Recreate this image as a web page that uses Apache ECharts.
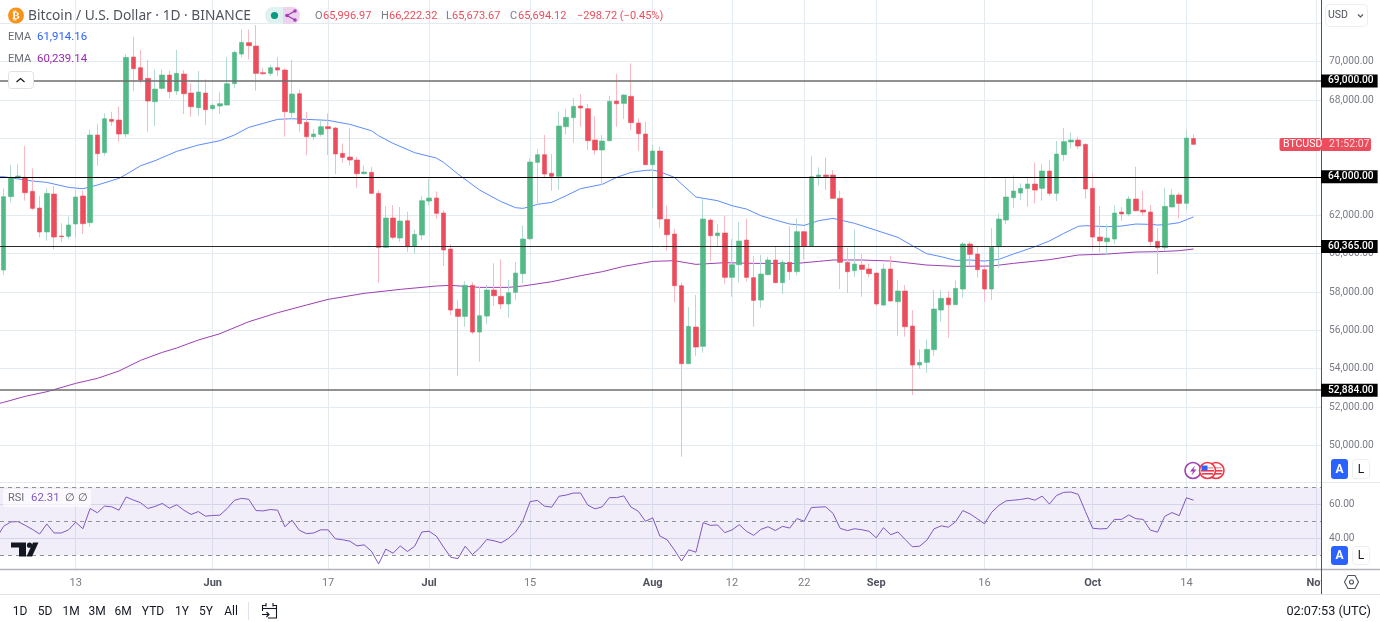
<!DOCTYPE html>
<html>
<head>
<meta charset="utf-8">
<title>BTCUSD</title>
<script src="https://cdn.jsdelivr.net/npm/echarts@6/dist/echarts.min.js"></script>
<style>
html, body { margin: 0; padding: 0; background: #fff; }
#main { width: 1380px; height: 622px; }
</style>
</head>
<body>
<div id="main"></div>
<script>
// daily candles, index 0 is 3 May
var opens = [59143,62965,63938,63972,63243,62374,61124,63104,60916,60898,61541,63000,61610,66179,65258,66995,66960,66231,70243,69687,
  69131,67915,68610,69305,68471,69357,68367,67603,68367,67551,67690,67742,68853,70399,70990,70816,69427,69392,69687,69565,
  67342,68332,66839,66092,66213,66613,66543,65223,65032,64876,64164,64233,63139,60324,61853,60811,61714,60395,60968,62739,
  62895,62114,60238,57111,56729,58344,55912,56746,58101,57771,57372,57980,58952,60776,64754,65153,64181,64025,66613,67082,
  67690,67551,65918,65397,65883,67950,67829,68193,66804,66231,64632,65345,61784,61020,58327,54262,56173,55166,61749,60933,
  61072,58762,59421,60707,58744,57580,58900,59665,58484,59543,59057,61141,60395,64007,64094,64094,62878,59543,59109,59404,
  59196,58987,57319,59196,57494,58049,56225,54193,54332,54992,57059,57685,57337,58153,60499,59977,59161,58153,60359,61749,
  62913,63156,63399,63625,63399,64303,63139,65153,65814,65918,65692,63399,60863,60620,60759,62166,62062,62843,62270,62166,
  60637,60307,62427,63052,62618,65997];
var closes = [62965,63972,64042,63173,62357,61124,63139,60863,60881,61489,62948,61558,66179,65206,67029,66891,66231,70226,69635,69045,
  67950,68575,69305,68437,69392,68332,67655,68419,67499,67725,67811,68853,70486,71007,70834,69392,69375,69687,69565,67394,
  68315,66769,66092,66231,66613,66508,65189,65015,64876,64164,64250,63139,60324,61853,60846,61697,60359,61003,62757,62895,
  62097,60186,57059,56729,58344,55912,56763,58101,57806,57372,57962,58987,60759,64771,65153,64146,64025,66648,67099,67672,
  67585,65883,65397,65866,67933,67811,68263,66821,66248,64632,65345,61801,60985,58327,54262,56208,55131,61801,60933,61072,
  58762,59421,60655,58762,57563,58935,59665,58484,59543,59057,61141,60395,64007,64094,64007,62878,59543,59057,59456,59178,
  58952,57372,59196,57528,58049,56190,54193,54332,55010,57111,57667,57337,58188,60499,59960,59161,58153,60324,61801,62948,
  63260,63399,63625,63312,64303,63139,65189,65831,65918,65605,63365,60863,60655,60811,62114,62062,62843,62235,62166,60620,
  60307,62461,63052,62618,66022,65694];
var lows = [58883,62670,63868,62757,62270,60846,60672,60220,60603,60742,60829,61020,61402,64580,65101,66648,65831,66057,68471,68871,
  66352,66648,68558,68089,68263,67273,67134,67186,66700,67447,67273,67690,68610,70226,70121,68489,69305,69253,69253,66092,
  66995,66352,65136,65918,66092,65136,64146,64737,64580,63434,64129,63104,58484,60290,60742,60603,60082,59994,60707,62514,
  61819,59352,56798,53620,56190,55808,54367,56330,57267,57111,56659,57580,58466,60707,62531,63938,63277,63312,66213,65779,
  66613,65397,65153,63573,65848,66613,67012,66439,65345,64615,62357,61349,60151,57459,49416,54245,54662,54836,59612,60359,
  58431,57754,58501,58535,56190,57181,58883,58450,57893,58622,58865,59699,60380,63538,63312,62861,58153,57945,58779,57754,
  58762,57267,57267,57494,55704,55669,52630,53998,53793,54662,56451,55617,57319,57702,59404,58744,57494,57580,59230,61541,
  62392,62791,62444,62618,62757,63000,62739,64824,65466,65449,62861,60220,60064,59960,60499,61714,61957,62201,61957,60359,
  58935,60151,62409,61836,62270,65674];
var highs = [63399,64615,64667,65605,64441,63000,63399,63521,61575,61923,63312,63277,66474,66752,67307,67394,67655,70399,71303,70608,
  70087,69600,69600,69531,70608,69565,68871,69513,69079,67829,68419,70226,70573,71685,71685,71911,69670,69826,70226,69652,
  70087,68558,67394,66491,66960,67307,66613,65744,66526,65049,64598,64511,63295,62479,62531,62427,62183,61228,63017,63885,
  63243,62270,60499,57580,58570,58501,58275,58362,59491,59699,58622,59560,61471,64962,65449,66179,65189,67411,67551,68107,
  68315,67794,67169,66179,68228,69357,68315,69913,67047,66873,65657,65570,62496,61280,58501,57215,57841,62843,61836,61541,
  61975,60759,61645,61836,59873,59925,59838,60359,59665,61419,61836,61160,65084,64493,65003,64355,63277,60307,61263,59977,
  59491,59000,59491,59873,58622,58362,57059,55010,55530,58101,58101,58049,58605,60620,60620,60359,59317,61332,62097,63920,
  64076,63660,64007,64754,64667,64876,65866,66543,66300,66092,65744,64181,62479,61523,62514,62427,63000,64528,63277,62531,
  61349,63434,63365,63173,66439,66222];

// EMA lines, read at these days
var blueDays = [-1,0,4,6,9,11,13,16,17,19,21,24,27,30,32,34,36,38,40,42,45,48,51,52,54,57,60,61,63,66,69,71,72,73,74,76,78,80,83,85,87,89,90,91,93,96,99,101,103,105,107,109,111,113,115,118,121,124,126,128,130,132,134,136,138,140,143,145,147,149,150,153,155,157,159,160,161,163,164,165];
var blueValues = [64000,64007,63781,63712,63451,63382,63573,63920,64129,64580,64841,65327,65657,65883,66179,66578,66786,66995,67029,66995,66943,66734,66404,66143,65744,65258,64980,64754,64146,63312,62704,62392,62357,62444,62565,62669,63017,63382,63608,63972,64233,64337,64354,64267,63972,62947,62757,62496,62322,61975,61749,61541,61471,61714,61836,61575,61210,60846,60412,59995,59838,59647,59664,59612,59699,59977,60359,60655,61054,61419,61454,61402,61436,61541,61524,61489,61506,61610,61766,61914];
var purpleDays = [-1,0,3,6,10,13,16,19,22,24,27,30,34,38,42,45,50,55,60,62,66,70,72,76,80,83,86,90,93,96,100,104,110,113,115,119,123,128,132,137,140,145,149,153,157,160,163,165];
var purpleValues = [52160,52248,52560,52803,53238,53498,53880,54436,54853,55079,55496,55826,56451,56920,57320,57615,57928,58136,58310,58344,58240,58240,58310,58535,58848,59057,59335,59595,59630,59439,59526,59491,59491,59595,59665,59665,59612,59404,59335,59352,59491,59682,59925,59977,60081,60099,60151,60239];

// horizontal levels
var levels = [69000, 64000, 60365, 52884];
var levelColors = ['#6e6e6e', '#000', '#2a2a2a', '#6e6e6e'];
var levelWidths = [1.6, 1, 1, 1.6];

// RSI, first value belongs to day -1
var rsiValues = [40.0,47.0,49.6,49.8,47.6,45.2,42.5,48.4,43.1,43.1,44.9,49.4,45.6,57.5,55.0,58.9,58.5,56.5,64.3,62.5,60.9,
  57.5,58.7,60.5,57.7,59.7,56.5,54.0,55.7,53.0,53.4,53.6,57.5,62.3,63.5,62.9,56.3,56.1,56.9,56.5,46.8,
  50.6,44.7,42.7,43.1,45.0,44.9,39.7,39.1,38.3,35.5,36.1,32.4,24.9,33.6,31.2,35.5,32.2,35.3,43.7,44.1,
  41.3,34.8,28.8,28.0,35.3,30.4,34.2,39.3,38.5,37.3,39.9,43.7,50.2,61.5,62.3,58.9,58.3,64.7,65.4,66.6,
  66.6,59.5,57.3,58.5,63.9,63.9,64.9,58.3,55.9,50.0,52.0,41.3,39.1,33.2,26.6,33.2,31.8,49.2,47.6,47.8,
  43.3,44.9,48.0,44.1,41.7,45.2,46.8,44.5,47.0,46.0,51.6,50.0,58.1,58.3,58.5,54.6,45.8,44.5,45.6,45.0,
  44.1,40.3,46.2,42.1,43.7,39.3,35.0,35.3,38.8,45.5,47.3,46.5,49.7,56.3,54.3,51.5,48.5,55.3,59.3,62.0,
  62.4,62.8,63.6,62.4,64.8,60.1,65.2,67.0,67.2,65.8,55.7,45.9,45.5,45.7,51.1,51.1,53.7,51.5,51.1,44.8,
  43.6,52.9,55.1,53.3,63.8,62.4];
var rsiLevels = [70, 50, 30];

// axis ticks
var tickDays = [10, 29, 45, 59, 73, 90, 101, 111, 121, 136, 151, 164, 182];
var tickLabels = ['13', 'Jun', '17', 'Jul', '15', 'Aug', '12', '22', 'Sep', '16', 'Oct', '14', 'Nov'];
var priceGrid = [50000,52000,54000,56000,58000,60000,62000,64000,66000,68000,70000,72000];
var priceLabels = [50000,52000,54000,56000,58000,60000,62000,64000,68000,70000];
var rsiTicks = [40, 60];
var rangeButtons = ['1D','5D','1M','3M','6M','YTD','1Y','5Y','All'];
var rangeX = [20,45,71,97,123,153,182,206,231];

var FONT = 'Roboto, sans-serif';
var GREEN = '#53b987', RED = '#eb4d5c', GRID = '#e3ebf1';
var xMin = -0.4935, xMax = 182.66;

function money(v) {
  return v.toLocaleString('en-US', { minimumFractionDigits: 2, maximumFractionDigits: 2 });
}
function pairs(days, vals) {
  return days.map(function (d, i) { return [d, vals[i]]; });
}

var wickData = opens.map(function (o, i) { return [i, o, closes[i], lows[i], highs[i]]; });
var bodyData = opens.map(function (o, i) {
  var top = Math.max(o, closes[i]), bot = Math.min(o, closes[i]);
  return [i, o, closes[i], bot, top];
});
var rsiData = rsiValues.map(function (v, i) { return [i - 1, v]; });

function txt(x, y, s, color, size, extra) {
  var st = { x: x, y: y, text: s, fill: color, font: (size || 12) + 'px ' + FONT, textVerticalAlign: 'middle' };
  if (extra) { for (var k in extra) st[k] = extra[k]; }
  return { type: 'text', z: 20, silent: true, style: st };
}
function box(x, y, w, h, r, fill, stroke) {
  return { type: 'rect', z: 19, silent: true, shape: { x: x, y: y, width: w, height: h, r: r },
    style: { fill: fill, stroke: stroke || null, lineWidth: 1 } };
}
function poly(points, stroke, width) {
  return { type: 'polyline', z: 20, silent: true, shape: { points: points },
    style: { stroke: stroke, lineWidth: width || 1, fill: null } };
}
function hline(y, color, x2, width) {
  return { type: 'line', z: 3, silent: true, shape: { x1: 0, y1: y, x2: x2 || 1380, y2: y },
    style: { stroke: color, lineWidth: width || 1 } };
}
function flag(cx, cy) {
  return [
    { type: 'circle', z: 21, silent: true, shape: { cx: cx, cy: cy, r: 8 }, style: { fill: '#fff', stroke: '#f23645', lineWidth: 1.6 } },
    { type: 'rect', z: 21, silent: true, shape: { x: cx - 5.5, y: cy - 3.5, width: 11, height: 1.6 }, style: { fill: '#f7a3ab' } },
    { type: 'rect', z: 21, silent: true, shape: { x: cx - 6.5, y: cy - 0.5, width: 13, height: 1.6 }, style: { fill: '#f23645' } },
    { type: 'rect', z: 21, silent: true, shape: { x: cx - 5.5, y: cy + 2.5, width: 11, height: 1.6 }, style: { fill: '#f23645' } }
  ];
}

var graphics = [
  // cuts the last x label at the price scale
  { type: 'rect', z: 1, silent: true, shape: { x: 1322, y: 571, width: 58, height: 22 }, style: { fill: '#fff' } },
  hline(482.5, '#e6e9ef'),
  hline(569.5, '#b2b5be', 1380, 1.5),
  hline(594.5, '#e0e3eb'),
  { type: 'line', z: 3, silent: true, shape: { x1: 1321.5, y1: 0, x2: 1321.5, y2: 594 }, style: { stroke: '#50535e', lineWidth: 1 } },

  // header
  { type: 'circle', z: 20, silent: true, shape: { cx: 16, cy: 15.5, r: 8 }, style: { fill: '#f7931a' } },
  txt(16, 16, '₿', '#fff', 11, { textAlign: 'center', font: 'bold 11px "DejaVu Sans"' }),
  txt(28, 16, 'Bitcoin / U.S. Dollar · 1D · BINANCE', '#50535e', 13.7, { font: '13.75px "Noto Sans"' }),
  box(265, 7, 18, 17, [8, 0, 0, 8], '#e0f2ef'),
  box(283, 7, 17, 17, [0, 8, 8, 0], '#eed3ee'),
  { type: 'circle', z: 20, silent: true, shape: { cx: 274.5, cy: 15.5, r: 3.6 }, style: { fill: '#089981' } },
  poly([[295, 11], [287, 15.5], [295, 20]], '#a13fb5', 1.4),
  { type: 'circle', z: 20, silent: true, shape: { cx: 295, cy: 11, r: 1.8 }, style: { fill: '#a13fb5' } },
  { type: 'circle', z: 20, silent: true, shape: { cx: 287, cy: 15.5, r: 1.8 }, style: { fill: '#a13fb5' } },
  { type: 'circle', z: 20, silent: true, shape: { cx: 295, cy: 20, r: 1.8 }, style: { fill: '#a13fb5' } },
  txt(315, 16, 'O', '#787b86', 11),
  txt(323, 16, '65,996.97', RED, 11),
  txt(381, 16, 'H', '#787b86', 11),
  txt(389, 16, '66,222.32', RED, 11),
  txt(446, 16, 'L', '#787b86', 11),
  txt(452, 16, '65,673.67', RED, 11),
  txt(510, 16, 'C', '#787b86', 11),
  txt(518, 16, '65,694.12', RED, 11),
  txt(577, 16, '−298.72 (−0.45%)', RED, 11),

  txt(8, 37.5, 'EMA', '#6a6d78', 11),
  txt(37, 37.5, '61,914.16', '#2962ff', 11.4),
  txt(8, 59.5, 'EMA', '#6a6d78', 11),
  txt(37, 59.5, '60,239.14', '#9c27b0', 11.4),
  box(8.5, 71.5, 25, 17, 3, '#fff', '#dfe1e6'),
  poly([[16.5, 82], [20.5, 78.5], [24.5, 82]], '#131722', 1.2),

  // RSI legend and logo
  box(3, 489, 88, 18, 2, 'rgba(255,255,255,.65)'),
  txt(8, 498.5, 'RSI', '#6a6d78', 11),
  txt(31, 498.5, '62.31', '#7e57c2', 11.4),
  txt(65, 498.5, '∅', '#50535e', 11),
  txt(78, 498.5, '∅', '#50535e', 11),
  { type: 'polygon', z: 20, silent: true, shape: { points: [[11, 542.5], [26, 542.5], [26, 556.5], [19, 556.5], [19, 547.5], [11, 547.5]] }, style: { fill: '#131722' } },
  { type: 'circle', z: 20, silent: true, shape: { cx: 29.5, cy: 545.2, r: 2.6 }, style: { fill: '#131722' } },
  { type: 'polygon', z: 20, silent: true, shape: { points: [[33, 542.5], [38.5, 542.5], [32, 556.5], [26.5, 556.5]] }, style: { fill: '#131722' } },

  // price scale furniture
  box(1325.5, 4.5, 42, 22, 4, '#fff', '#eceef2'),
  txt(1328, 15.5, 'USD', '#50535e', 10.5),
  poly([[1358, 14.5], [1360.5, 17], [1363, 14.5]], '#50535e', 1.1),

  box(1279.5, 138, 41.5, 13, 2, RED),
  box(1321, 138, 50, 13, 2, RED),
  txt(1283, 144.7, 'BTCUSD', '#fff', 10.5),
  txt(1329, 144.7, '21:52:07', '#fbd9dc', 10.5),

  box(1331, 459, 17, 20, 3, '#2962ff'),
  txt(1339.5, 469.5, 'A', '#fff', 12, { textAlign: 'center', font: 'bold 12px ' + FONT }),
  box(1352.5, 459.5, 17, 19, 3, '#fff', '#eceef2'),
  txt(1361, 469.5, 'L', '#131722', 12, { textAlign: 'center' }),
  box(1331, 546, 17, 19, 3, '#2962ff'),
  txt(1339.5, 556, 'A', '#fff', 12, { textAlign: 'center', font: 'bold 12px ' + FONT }),
  box(1352.5, 546.5, 17, 18, 3, '#fff', '#eceef2'),
  txt(1361, 556, 'L', '#131722', 12, { textAlign: 'center' }),

  { type: 'polygon', z: 20, silent: true, shape: { points: [[1344.5, 582], [1348, 575.5], [1355, 575.5], [1358.5, 582], [1355, 588.5], [1348, 588.5]] }, style: { fill: '#fff', stroke: '#50535e', lineWidth: 1.1 } },
  { type: 'circle', z: 21, silent: true, shape: { cx: 1351.5, cy: 582, r: 2 }, style: { fill: '#fff', stroke: '#50535e', lineWidth: 1.1 } },

  // events
  { type: 'circle', z: 21, silent: true, shape: { cx: 1193, cy: 470.5, r: 8 }, style: { fill: '#fff', stroke: '#a13fb5', lineWidth: 1.6 } },
  { type: 'polygon', z: 21, silent: true, shape: { points: [[1195, 465.5], [1190, 471.5], [1193, 471.5], [1191.5, 475.5], [1196.5, 469.5], [1193.5, 469.5]] }, style: { fill: '#a13fb5' } }
]
  .concat(flag(1216, 470.5))
  .concat(flag(1207.5, 470.5))
  .concat([
    { type: 'rect', z: 22, silent: true, shape: { x: 1201.5, y: 465.5, width: 6, height: 5 }, style: { fill: '#2962ff' } },

    // bottom toolbar
    { type: 'line', z: 3, silent: true, shape: { x1: 248.5, y1: 602, x2: 248.5, y2: 620 }, style: { stroke: '#e0e3eb' } },
    poly([[266, 605.5], [262.5, 605.5], [262.5, 611]], '#131722', 1.1),
    poly([[273, 605.5], [276.5, 605.5], [276.5, 618], [268, 618]], '#131722', 1.1),
    poly([[262.5, 608.5], [276.5, 608.5]], '#131722', 1.1),
    poly([[266, 603], [266, 606.5]], '#131722', 1.1),
    poly([[273, 603], [273, 606.5]], '#131722', 1.1),
    poly([[262, 614.5], [269, 614.5]], '#131722', 1.1),
    poly([[266.5, 612], [269, 614.5], [266.5, 617]], '#131722', 1.1),
    txt(1371, 611.5, '02:07:53 (UTC)', '#131722', 12.7, { textAlign: 'right' })
  ])
  .concat(rangeButtons.map(function (b, i) {
    return txt(rangeX[i], 611.5, b, '#131722', 12, { textAlign: 'center' });
  }));

var chart = echarts.init(document.getElementById('main'));
chart.setOption({
  animation: false,
  backgroundColor: '#fff',
  graphic: graphics,
  grid: [
    { left: 0, top: 0, width: 1321, height: 482 },
    { left: 0, top: 482, width: 1321, height: 87 }
  ],
  xAxis: [
    {
      type: 'value', gridIndex: 0, min: xMin, max: xMax,
      axisLine: { show: false }, axisLabel: { show: false },
      axisTick: { show: false, customValues: tickDays },
      splitLine: { show: true, lineStyle: { color: GRID } }
    },
    {
      type: 'value', gridIndex: 1, min: xMin, max: xMax, z: 0,
      axisLine: { show: false },
      axisTick: { show: false, customValues: tickDays },
      splitLine: { show: true, lineStyle: { color: GRID } },
      axisLabel: {
        customValues: tickDays, margin: 9, hideOverlap: false,
        formatter: function (v) {
          var s = tickLabels[tickDays.indexOf(v)];
          return /\d/.test(s) ? '{d|' + s + '}' : '{m|' + s + '}';
        },
        rich: {
          d: { fontFamily: FONT, fontSize: 11, color: '#787b86' },
          m: { fontFamily: FONT, fontSize: 11, color: '#50535e', fontWeight: 'bold' }
        }
      }
    }
  ],
  yAxis: [
    {
      type: 'value', gridIndex: 0, position: 'right', min: 48098, max: 73215, scale: true,
      axisLine: { show: false },
      axisTick: { show: false, customValues: priceGrid },
      splitLine: { show: true, lineStyle: { color: GRID } },
      axisLabel: {
        customValues: priceLabels, margin: 8, color: '#787b86', fontFamily: FONT, fontSize: 10.2,
        formatter: function (v) { return money(v); }
      }
    },
    {
      type: 'value', gridIndex: 1, position: 'right', min: 21.9, max: 73.1, scale: true,
      axisLine: { show: false },
      axisTick: { show: false, customValues: rsiTicks },
      splitLine: { show: true, lineStyle: { color: '#dde1ee' } },
      axisLabel: {
        customValues: rsiTicks, margin: 8, color: '#787b86', fontFamily: FONT, fontSize: 10.2,
        formatter: function (v) { return money(v); }
      }
    }
  ],
  series: [
    {
      name: 'EMA 21', type: 'line', z: 2, xAxisIndex: 0, yAxisIndex: 0, showSymbol: false, silent: true,
      data: pairs(blueDays, blueValues), lineStyle: { color: '#5b8cff', width: 1 }
    },
    {
      name: 'EMA 100', type: 'line', z: 2, xAxisIndex: 0, yAxisIndex: 0, showSymbol: false, silent: true,
      data: pairs(purpleDays, purpleValues), lineStyle: { color: '#9c3fb5', width: 1 }
    },
    {
      name: 'wicks', type: 'candlestick', z: 3, xAxisIndex: 0, yAxisIndex: 0, silent: true,
      barWidth: 1, data: wickData,
      itemStyle: { color: '#b4dbd0', color0: '#f9b9c1', borderColor: '#b4dbd0', borderColor0: '#f9b9c1', borderWidth: 1 }
    },
    {
      name: 'BTCUSD', type: 'candlestick', z: 4, xAxisIndex: 0, yAxisIndex: 0, silent: true,
      barWidth: 5, data: bodyData,
      itemStyle: { color: GREEN, color0: RED, borderColor: GREEN, borderColor0: RED, borderWidth: 0.6 },
      markLine: {
        silent: true, symbol: 'none', animation: false,
        lineStyle: { type: 'solid' },
        label: {
          show: true, position: 'end', distance: 0, backgroundColor: '#000', color: '#fff',
          fontFamily: FONT, fontSize: 10.2, fontWeight: 500, padding: [2, 4, 1, 7],
          formatter: function (p) { return money(p.value); }
        },
        data: levels.map(function (l, i) {
          return { yAxis: l, lineStyle: { color: levelColors[i], width: levelWidths[i] } };
        })
      }
    },
    {
      name: 'RSI', type: 'line', z: 4, xAxisIndex: 1, yAxisIndex: 1, showSymbol: false, silent: true,
      data: rsiData, lineStyle: { color: '#7e57c2', width: 1 },
      markArea: {
        silent: true, itemStyle: { color: 'rgba(126,87,194,0.1)' },
        data: [[{ yAxis: rsiLevels[0] }, { yAxis: rsiLevels[2] }]]
      },
      markLine: {
        silent: true, symbol: 'none', animation: false, label: { show: false },
        lineStyle: { color: '#8f919b', width: 1, type: [4, 4] },
        data: rsiLevels.map(function (l) { return { yAxis: l }; })
      }
    }
  ]
});
</script>
</body>
</html>
